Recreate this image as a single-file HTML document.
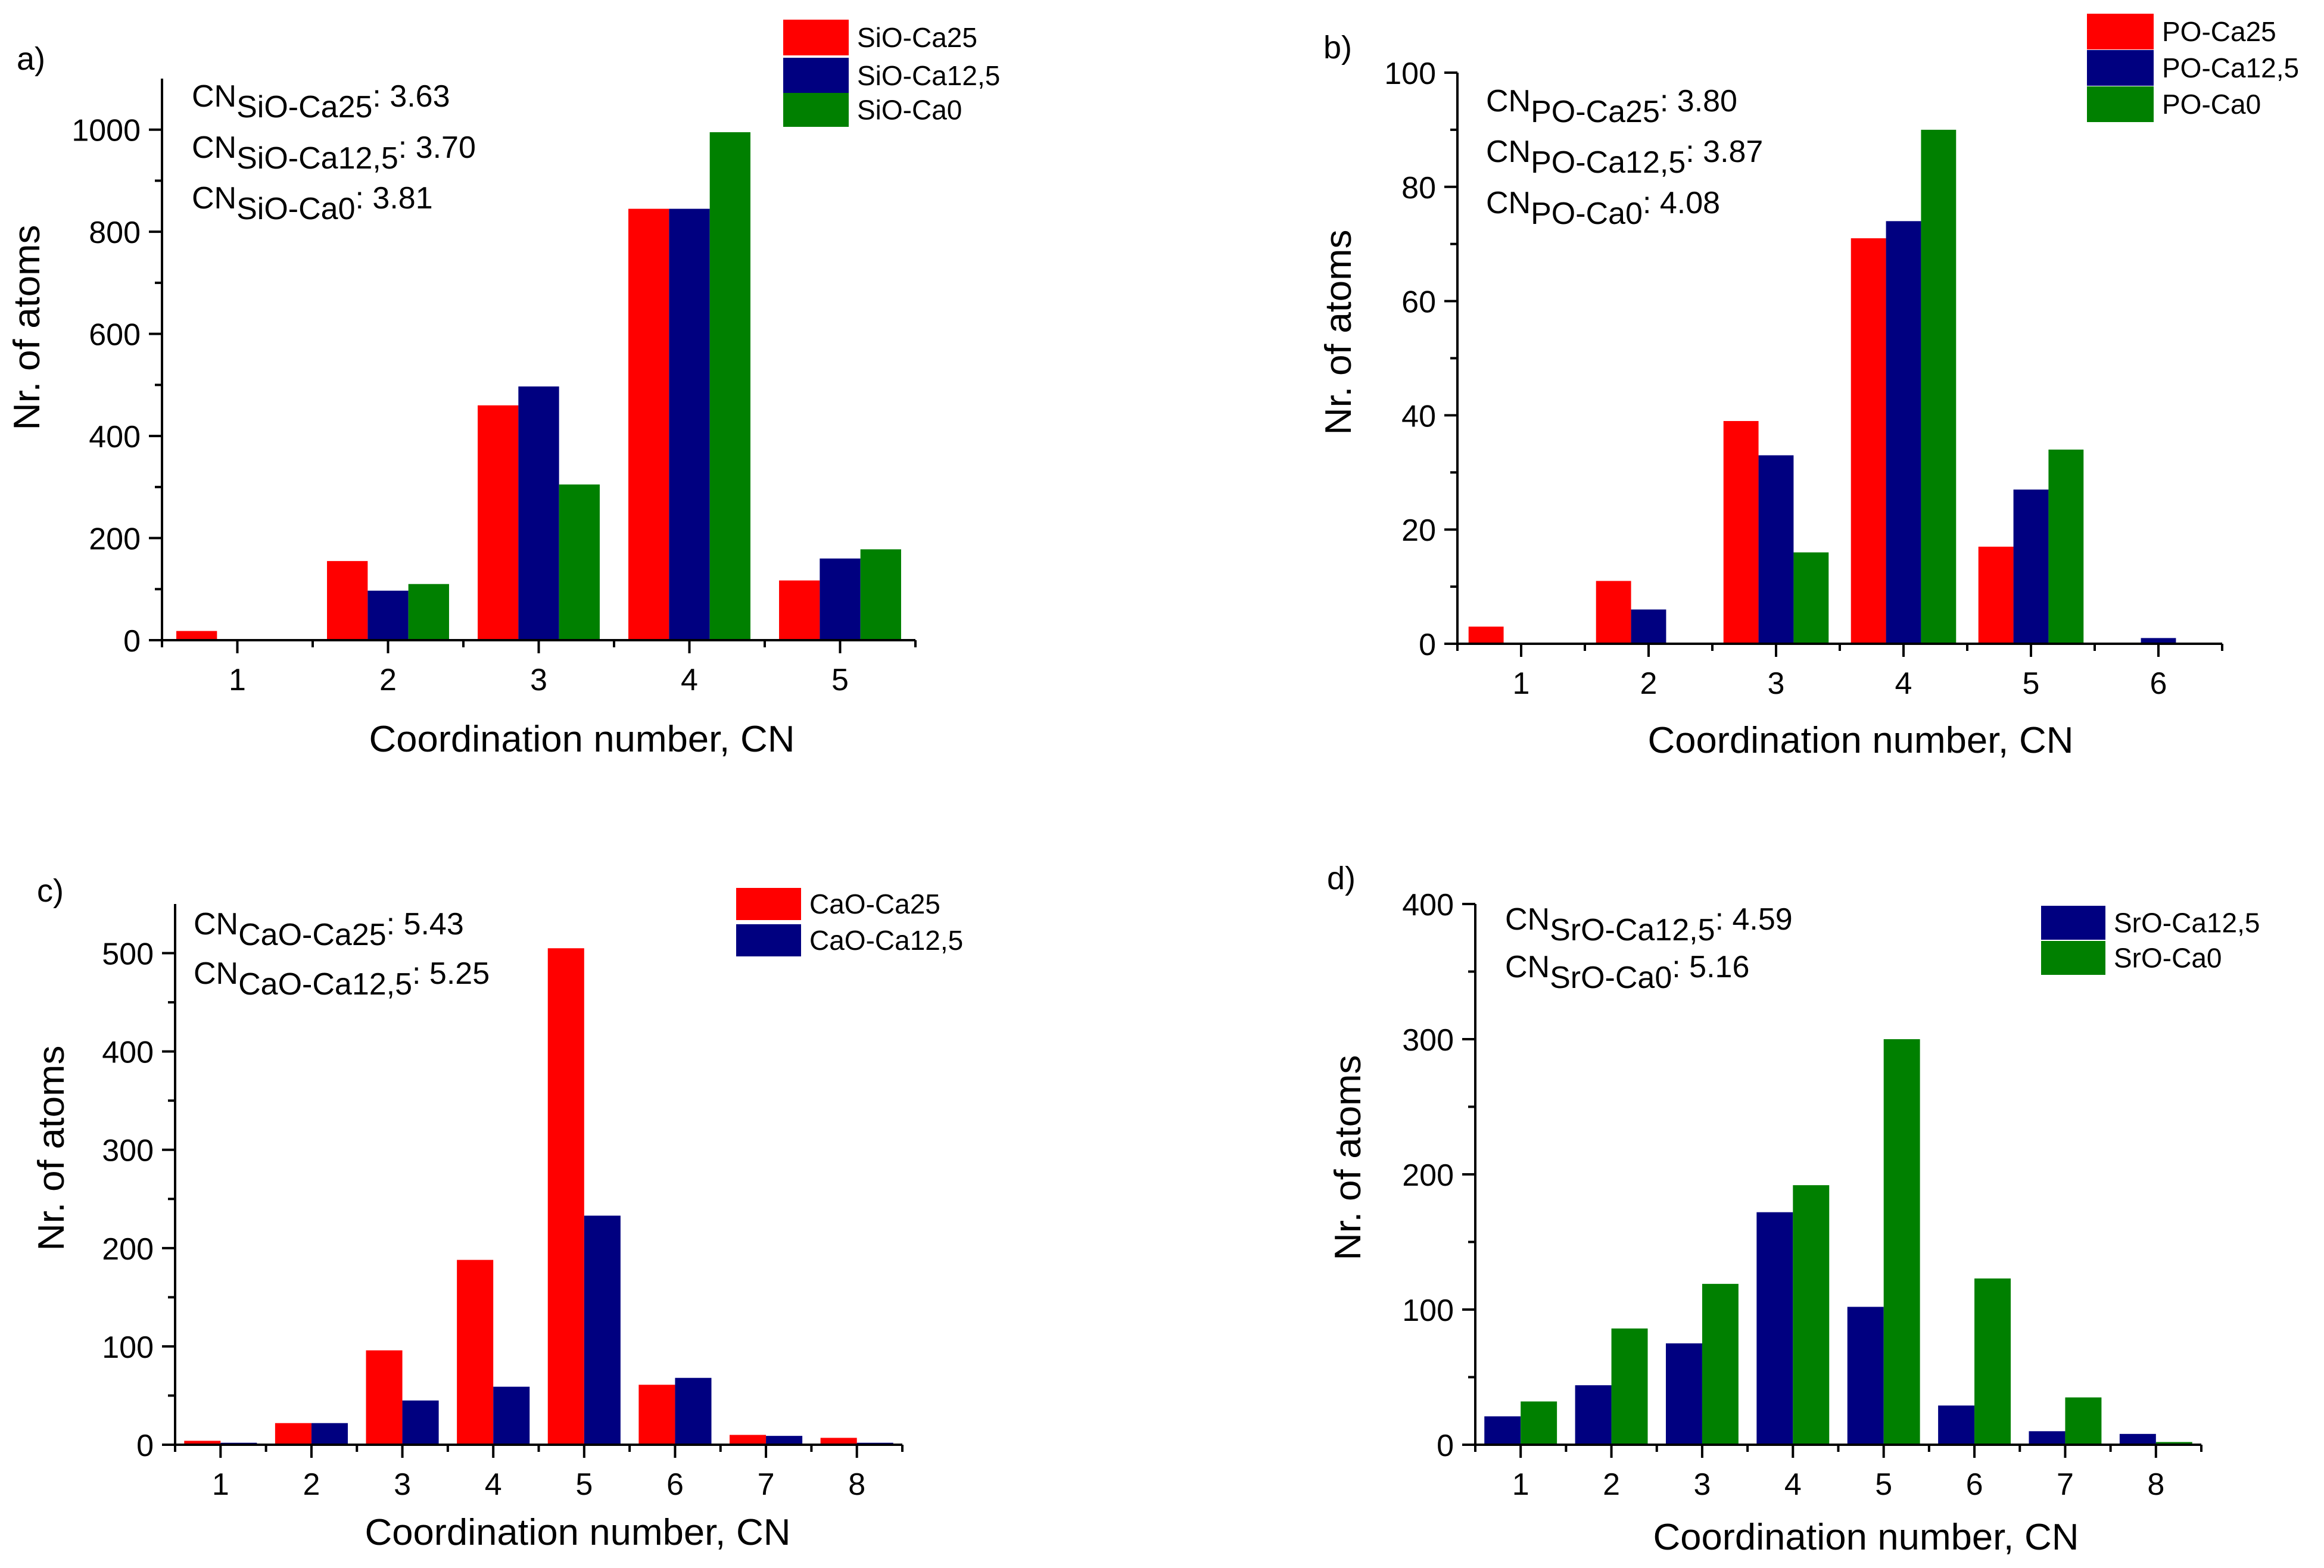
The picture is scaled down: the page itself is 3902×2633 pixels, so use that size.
<!DOCTYPE html>
<html><head><meta charset="utf-8"><title>Coordination number histograms</title>
<style>
html,body{margin:0;padding:0;background:#fff;}
svg{display:block;font-family:"Liberation Sans",Arial,sans-serif;}
</style></head>
<body>
<svg id="fig" width="3902" height="2633" viewBox="0 0 3902 2633" xmlns="http://www.w3.org/2000/svg"></svg>
<script>
// ---- Panel a data ----
const catsA = [1,2,3,4,5];
const aCa25 = [18,155,460,845,117];
const aCa125 = [0,97,497,845,160];
const aCa0 = [0,110,305,995,178];
const yTicksA = [0,200,400,600,800,1000];
// ---- Panel b data ----
const catsB = [1,2,3,4,5,6];
const bCa25 = [3,11,39,71,17,0];
const bCa125 = [0,6,33,74,27,1];
const bCa0 = [0,0,16,90,34,0];
const yTicksB = [0,20,40,60,80,100];
// ---- Panel c data ----
const catsC = [1,2,3,4,5,6,7,8];
const cCa25 = [4,22,96,188,505,61,10,7];
const cCa125 = [2,22,45,59,233,68,9,2];
const yTicksC = [0,100,200,300,400,500];
// ---- Panel d data ----
const catsD = [1,2,3,4,5,6,7,8];
const dCa125 = [21,44,75,172,102,29,10,8];
const dCa0 = [32,86,119,192,300,123,35,2];
const yTicksD = [0,100,200,300,400];

const NS = "http://www.w3.org/2000/svg";
const svg = document.getElementById('fig');
function mk(tag, attrs, parent){
  const e = document.createElementNS(NS, tag);
  for (const k in attrs) e.setAttribute(k, attrs[k]);
  (parent||svg).appendChild(e);
  return e;
}
const RED="#ff0000", NAVY="#000080", GREEN="#008000";

function panel(p){
  const g = mk('g', {});
  
  
  const xs = v => p.x0 + (v - p.xmin) * (p.x1 - p.x0) / (p.xmax - p.xmin);
  const ys = v => p.y0 - (v - p.ymin) * (p.y0 - p.y1) / (p.ymax - p.ymin);
  // bars
  const n = p.series.length;
  p.cats.forEach((c, i) => {
    p.series.forEach((s, j) => {
      const v = s.vals[i];
      if (v <= 0) return;
      const left = xs(c - n * p.bw / 2 + j * p.bw);
      const right = xs(c - n * p.bw / 2 + (j + 1) * p.bw);
      const r = mk('rect', {x: left, y: ys(v), width: right - left, height: ys(0) - ys(v), fill: s.color}, g);
      
      
    });
  });
  // axes
  const ax = mk('line', {x1: p.x0, y1: p.y0, x2: p.x1, y2: p.y0, stroke: '#000', 'stroke-width': 4}, g);
  
  
  const ay = mk('line', {x1: p.x0, y1: p.y0 + 2, x2: p.x0, y2: p.y1, stroke: '#000', 'stroke-width': 4}, g);
  
  
  // y ticks
  p.yTicks.forEach((t, i) => {
    mk('line', {x1: p.x0 - 22, y1: ys(t), x2: p.x0, y2: ys(t), stroke: '#000', 'stroke-width': 4}, g);
    const lb = mk('text', {x: p.x0 - 36, y: ys(t) + 19, 'font-size': 52, 'text-anchor': 'end', fill: '#000'}, g);
    lb.textContent = t;
    
    
    if (i < p.yTicks.length - 1) {
      const m = (t + p.yTicks[i + 1]) / 2;
      mk('line', {x1: p.x0 - 12, y1: ys(m), x2: p.x0, y2: ys(m), stroke: '#000', 'stroke-width': 4}, g);
    }
  });
  // x ticks
  p.cats.forEach(c => {
    mk('line', {x1: xs(c), y1: p.y0, x2: xs(c), y2: p.y0 + 22, stroke: '#000', 'stroke-width': 4}, g);
    mk('line', {x1: xs(c - 0.5), y1: p.y0, x2: xs(c - 0.5), y2: p.y0 + 12, stroke: '#000', 'stroke-width': 4}, g);
    const lb = mk('text', {x: xs(c), y: p.y0 + 84, 'font-size': 52, 'text-anchor': 'middle', fill: '#000'}, g);
    lb.textContent = c;
    
    
  });
  mk('line', {x1: xs(p.xmax), y1: p.y0, x2: xs(p.xmax), y2: p.y0 + 12, stroke: '#000', 'stroke-width': 4}, g);
  // titles
  const xt = mk('text', {x: p.xtx, y: p.xty, 'font-size': 62, 'text-anchor': 'middle', textLength: 715, lengthAdjust: 'spacingAndGlyphs', fill: '#000'}, g);
  xt.textContent = 'Coordination number, CN';
  
  
  const yt = mk('text', {x: 0, y: 0, 'font-size': 62, 'text-anchor': 'middle', textLength: 345, lengthAdjust: 'spacingAndGlyphs', transform: 'translate(' + (p.ytx + 22) + ',' + p.yty + ') rotate(-90)', fill: '#000'}, g);
  yt.textContent = 'Nr. of atoms';
  
  
  // panel label
  const pl = mk('text', {x: p.lx, y: p.ly, 'font-size': 54, fill: '#000'}, g);
  pl.textContent = p.id + ')';
  
  
  // annotations
  p.notes.forEach((nt, i) => {
    const t = mk('text', {x: p.nx, y: p.ny[i], 'font-size': 52, fill: '#000'}, g);
    
    
    const s1 = mk('tspan', {}, t); s1.textContent = 'CN';
    const s2 = mk('tspan', {dy: 18}, t); s2.textContent = nt[0];
    const s3 = mk('tspan', {dy: -18}, t); s3.textContent = ': ' + nt[1];
  });
  // legend
  p.series.forEach((s, j) => {
    const r = mk('rect', {x: p.legx, y: p.legy[j], width: p.legw, height: p.legh[j], fill: s.color}, g);
    
    
    const t = mk('text', {x: p.legx + p.legw + 14, y: p.legy[j] + p.legh[j] / 2 + 16, 'font-size': 46, fill: '#000'}, g);
    t.textContent = s.name;
    
    
  });
}

panel({id: 'a', cats: catsA, yTicks: yTicksA, xmin: 0.5, xmax: 5.5, ymin: 0, ymax: 1100,
  x0: 272, x1: 1537, y0: 1075, y1: 132, bw: 0.27,
  series: [{key: 'sio-ca25', name: 'SiO-Ca25', color: RED, vals: aCa25},
           {key: 'sio-ca12-5', name: 'SiO-Ca12,5', color: NAVY, vals: aCa125},
           {key: 'sio-ca0', name: 'SiO-Ca0', color: GREEN, vals: aCa0}],
  xtx: 977, xty: 1262, ytx: 44, yty: 550, lx: 28, ly: 117,
  nx: 322, ny: [179, 265, 350],
  notes: [['SiO-Ca25', '3.63'], ['SiO-Ca12,5', '3.70'], ['SiO-Ca0', '3.81']],
  legx: 1315, legw: 110, legy: [33, 97, 156], legh: [60, 60, 57]});

panel({id: 'b', cats: catsB, yTicks: yTicksB, xmin: 0.5, xmax: 6.5, ymin: 0, ymax: 100,
  x0: 2447, x1: 3731, y0: 1081, y1: 122, bw: 0.275,
  series: [{key: 'po-ca25', name: 'PO-Ca25', color: RED, vals: bCa25},
           {key: 'po-ca12-5', name: 'PO-Ca12,5', color: NAVY, vals: bCa125},
           {key: 'po-ca0', name: 'PO-Ca0', color: GREEN, vals: bCa0}],
  xtx: 3124, xty: 1264, ytx: 2246, yty: 558, lx: 2222, ly: 98,
  nx: 2495, ny: [187, 272, 358],
  notes: [['PO-Ca25', '3.80'], ['PO-Ca12,5', '3.87'], ['PO-Ca0', '4.08']],
  legx: 3504, legw: 112, legy: [23, 84, 145], legh: [60, 60, 60]});

panel({id: 'c', cats: catsC, yTicks: yTicksC, xmin: 0.5, xmax: 8.5, ymin: 0, ymax: 550,
  x0: 294, x1: 1515, y0: 2426, y1: 1518, bw: 0.4,
  series: [{key: 'cao-ca25', name: 'CaO-Ca25', color: RED, vals: cCa25},
           {key: 'cao-ca12-5', name: 'CaO-Ca12,5', color: NAVY, vals: cCa125}],
  xtx: 970, xty: 2594, ytx: 85, yty: 1928, lx: 62, ly: 1514,
  nx: 325, ny: [1569, 1652],
  notes: [['CaO-Ca25', '5.43'], ['CaO-Ca12,5', '5.25']],
  legx: 1236, legw: 109, legy: [1491, 1552], legh: [54, 54]});

panel({id: 'd', cats: catsD, yTicks: yTicksD, xmin: 0.5, xmax: 8.5, ymin: 0, ymax: 400,
  x0: 2477, x1: 3696, y0: 2426, y1: 1518, bw: 0.4,
  series: [{key: 'sro-ca12-5', name: 'SrO-Ca12,5', color: NAVY, vals: dCa125},
           {key: 'sro-ca0', name: 'SrO-Ca0', color: GREEN, vals: dCa0}],
  xtx: 3133, xty: 2602, ytx: 2262, yty: 1944, lx: 2228, ly: 1493,
  nx: 2527, ny: [1561, 1641],
  notes: [['SrO-Ca12,5', '4.59'], ['SrO-Ca0', '5.16']],
  legx: 3427, legw: 108, legy: [1521, 1580], legh: [57, 57]});
</script>
</body></html>
